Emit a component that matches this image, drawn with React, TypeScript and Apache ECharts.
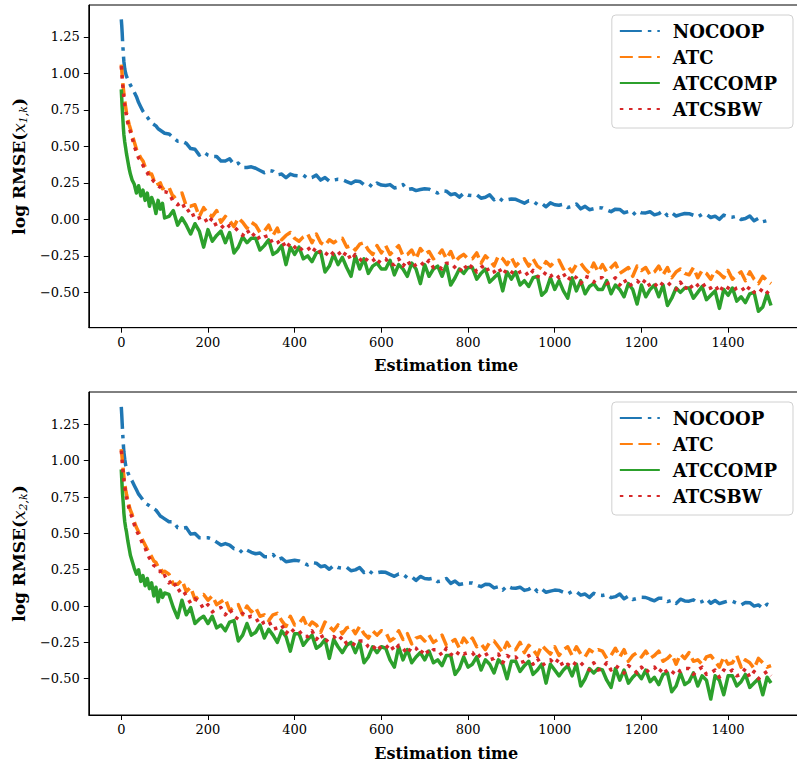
import React, { useEffect, useRef } from 'react';
import * as echarts from 'echarts';

// Sample positions (estimation time) at which values were read from the reference
const SAMPLE_X = [
  0, 1, 2, 3, 4, 5, 6, 8, 10, 12, 15, 18, 21, 25, 30, 35, 40, 45, 50, 55, 60, 65, 70, 75, 80, 85, 90, 95, 100,
  110, 120, 130, 140, 150, 160, 170, 180, 190, 200,
  210, 220, 230, 240, 250, 260, 270, 280, 290, 300,
  310, 320, 330, 340, 350, 360, 370, 380, 390, 400,
  410, 420, 430, 440, 450, 460, 470, 480, 490, 500,
  510, 520, 530, 540, 550, 560, 570, 580, 590, 600,
  610, 620, 630, 640, 650, 660, 670, 680, 690, 700,
  710, 720, 730, 740, 750, 760, 770, 780, 790, 800,
  810, 820, 830, 840, 850, 860, 870, 880, 890, 900,
  910, 920, 930, 940, 950, 960, 970, 980, 990, 1000,
  1010, 1020, 1030, 1040, 1050, 1060, 1070, 1080, 1090, 1100,
  1110, 1120, 1130, 1140, 1150, 1160, 1170, 1180, 1190, 1200,
  1210, 1220, 1230, 1240, 1250, 1260, 1270, 1280, 1290, 1300,
  1310, 1320, 1330, 1340, 1350, 1360, 1370, 1380, 1390, 1400,
  1410, 1420, 1430, 1440, 1450, 1460, 1470, 1480, 1490, 1499,
];

const SERIES_NAMES = ['NOCOOP', 'ATC', 'ATCCOMP', 'ATCSBW'];

// ---- top panel: log RMSE(x_{1,k}) ----
const TOP_NOCOOP = [
  1.37, 1.33, 1.28, 1.22, 1.17, 1.12, 1.08, 1.03, 1.0, 0.98, 0.96, 0.94, 0.92, 0.9, 0.87, 0.84, 0.8, 0.77, 0.74, 0.72, 0.7, 0.68, 0.66, 0.65, 0.64, 0.62, 0.61, 0.6, 0.59,
  0.585, 0.56, 0.535, 0.535, 0.52, 0.485, 0.48, 0.44, 0.46, 0.44,
  0.43, 0.43, 0.4, 0.4, 0.415, 0.375, 0.385, 0.355, 0.355, 0.36,
  0.35, 0.335, 0.32, 0.335, 0.33, 0.305, 0.31, 0.285, 0.31, 0.3,
  0.297, 0.303, 0.28, 0.286, 0.303, 0.269, 0.286, 0.262, 0.269, 0.275,
  0.272, 0.259, 0.246, 0.263, 0.26, 0.237, 0.244, 0.221, 0.248, 0.235,
  0.232, 0.238, 0.215, 0.221, 0.238, 0.204, 0.21, 0.197, 0.204, 0.21,
  0.207, 0.193, 0.18, 0.196, 0.193, 0.169, 0.176, 0.152, 0.179, 0.165,
  0.162, 0.168, 0.145, 0.151, 0.168, 0.134, 0.151, 0.127, 0.134, 0.14,
  0.137, 0.124, 0.111, 0.128, 0.125, 0.102, 0.109, 0.086, 0.113, 0.1,
  0.097, 0.104, 0.081, 0.088, 0.105, 0.072, 0.089, 0.066, 0.073, 0.08,
  0.078, 0.065, 0.053, 0.07, 0.068, 0.045, 0.053, 0.03, 0.058, 0.045,
  0.044, 0.052, 0.031, 0.039, 0.058, 0.026, 0.045, 0.023, 0.032, 0.04,
  0.039, 0.028, 0.016, 0.035, 0.034, 0.013, 0.022, 0.0, 0.029, 0.018,
  0.015, 0.022, -0.001, 0.006, 0.023, -0.01, 0.007, -0.016, -0.009, -0.02,
];
const TOP_ATC = [
  1.06, 1.03, 0.99, 0.95, 0.92, 0.89, 0.86, 0.81, 0.77, 0.73, 0.69, 0.65, 0.62, 0.58, 0.53, 0.48, 0.45, 0.42, 0.4, 0.36, 0.35, 0.31, 0.31, 0.27, 0.28, 0.24, 0.25, 0.21, 0.22,
  0.22, 0.15, 0.17, 0.18, 0.09, 0.09, 0.1, 0.02, 0.08, 0.04,
  0.02, 0.06, -0.02, 0.02, -0.01, -0.05, 0.01, -0.02, -0.06, -0.02,
  -0.04, -0.09, -0.08, -0.04, -0.11, -0.06, -0.14, -0.11, -0.09, -0.13,
  -0.15, -0.12, -0.1, -0.16, -0.1, -0.16, -0.18, -0.14, -0.16, -0.14,
  -0.13, -0.19, -0.18, -0.21, -0.17, -0.16, -0.21, -0.24, -0.18, -0.23,
  -0.18, -0.24, -0.21, -0.18, -0.25, -0.24, -0.21, -0.27, -0.2, -0.24,
  -0.22, -0.27, -0.25, -0.21, -0.27, -0.22, -0.29, -0.26, -0.24, -0.27,
  -0.27, -0.23, -0.3, -0.25, -0.28, -0.32, -0.25, -0.27, -0.31, -0.26,
  -0.32, -0.29, -0.27, -0.32, -0.27, -0.32, -0.34, -0.29, -0.32, -0.29,
  -0.28, -0.34, -0.32, -0.36, -0.31, -0.3, -0.34, -0.37, -0.3, -0.36,
  -0.31, -0.36, -0.33, -0.3, -0.37, -0.35, -0.33, -0.39, -0.32, -0.35,
  -0.33, -0.38, -0.36, -0.32, -0.38, -0.33, -0.4, -0.36, -0.34, -0.37,
  -0.38, -0.33, -0.4, -0.35, -0.37, -0.41, -0.35, -0.37, -0.4, -0.35,
  -0.41, -0.38, -0.36, -0.42, -0.36, -0.41, -0.44, -0.39, -0.42, -0.44,
];
const TOP_ATCCOMP = [
  0.89, 0.83, 0.77, 0.72, 0.67, 0.62, 0.58, 0.53, 0.49, 0.45, 0.4, 0.35, 0.31, 0.27, 0.24, 0.18, 0.23, 0.16, 0.2, 0.13, 0.18, 0.09, 0.15, 0.11, 0.04, 0.13, 0.07, 0.11, 0.01,
  0.02, 0.06, -0.04, 0.01, -0.04, -0.1, -0.03, -0.08, -0.19, -0.07,
  -0.15, -0.11, -0.08, -0.16, -0.09, -0.23, -0.19, -0.12, -0.16, -0.13,
  -0.13, -0.21, -0.18, -0.14, -0.24, -0.22, -0.18, -0.31, -0.19, -0.24,
  -0.19, -0.27, -0.25, -0.29, -0.23, -0.22, -0.36, -0.32, -0.24, -0.31,
  -0.26, -0.33, -0.39, -0.25, -0.34, -0.27, -0.37, -0.32, -0.3, -0.34,
  -0.34, -0.28, -0.38, -0.31, -0.34, -0.39, -0.3, -0.34, -0.44, -0.31,
  -0.39, -0.34, -0.32, -0.39, -0.31, -0.45, -0.4, -0.34, -0.37, -0.33,
  -0.33, -0.41, -0.37, -0.34, -0.43, -0.4, -0.37, -0.49, -0.36, -0.41,
  -0.36, -0.45, -0.42, -0.46, -0.4, -0.39, -0.52, -0.49, -0.4, -0.48,
  -0.42, -0.49, -0.54, -0.4, -0.49, -0.42, -0.51, -0.46, -0.44, -0.48,
  -0.48, -0.42, -0.51, -0.45, -0.48, -0.53, -0.44, -0.48, -0.58, -0.45,
  -0.53, -0.48, -0.45, -0.53, -0.45, -0.59, -0.54, -0.47, -0.5, -0.47,
  -0.47, -0.54, -0.5, -0.46, -0.55, -0.52, -0.49, -0.61, -0.48, -0.52,
  -0.47, -0.56, -0.53, -0.57, -0.51, -0.5, -0.63, -0.6, -0.51, -0.59,
];
const TOP_ATCSBW = [
  1.05, 1.01, 0.97, 0.93, 0.9, 0.86, 0.83, 0.78, 0.74, 0.71, 0.66, 0.63, 0.6, 0.56, 0.5, 0.46, 0.42, 0.4, 0.37, 0.34, 0.32, 0.29, 0.28, 0.26, 0.25, 0.23, 0.22, 0.19, 0.19,
  0.18, 0.12, 0.1, 0.12, 0.05, 0.07, 0.0, 0.01, 0.02, -0.03,
  0.01, -0.05, -0.04, -0.07, -0.04, -0.05, -0.08, -0.11, -0.07, -0.12,
  -0.09, -0.14, -0.12, -0.11, -0.17, -0.16, -0.14, -0.2, -0.16, -0.19,
  -0.22, -0.19, -0.19, -0.23, -0.19, -0.23, -0.25, -0.21, -0.24, -0.22,
  -0.26, -0.22, -0.28, -0.24, -0.27, -0.3, -0.26, -0.27, -0.31, -0.27,
  -0.27, -0.31, -0.31, -0.27, -0.32, -0.28, -0.33, -0.31, -0.29, -0.32,
  -0.28, -0.33, -0.32, -0.34, -0.3, -0.3, -0.33, -0.36, -0.31, -0.35,
  -0.31, -0.36, -0.33, -0.31, -0.37, -0.36, -0.33, -0.38, -0.34, -0.36,
  -0.38, -0.36, -0.35, -0.39, -0.35, -0.39, -0.4, -0.36, -0.39, -0.37,
  -0.4, -0.37, -0.42, -0.38, -0.4, -0.44, -0.39, -0.4, -0.43, -0.4,
  -0.4, -0.44, -0.43, -0.4, -0.45, -0.41, -0.46, -0.44, -0.42, -0.45,
  -0.41, -0.46, -0.44, -0.47, -0.43, -0.43, -0.46, -0.48, -0.43, -0.48,
  -0.44, -0.48, -0.45, -0.43, -0.48, -0.47, -0.45, -0.5, -0.45, -0.47,
  -0.49, -0.47, -0.46, -0.5, -0.46, -0.5, -0.51, -0.47, -0.5, -0.52,
];

// ---- bottom panel: log RMSE(x_{2,k}) ----
const BOT_NOCOOP = [
  1.37, 1.32, 1.26, 1.2, 1.15, 1.1, 1.06, 1.01, 0.97, 0.95, 0.92, 0.9, 0.88, 0.86, 0.83, 0.8, 0.77, 0.75, 0.73, 0.71, 0.7, 0.69, 0.68, 0.67, 0.66, 0.64, 0.62, 0.61, 0.6,
  0.58, 0.58, 0.54, 0.535, 0.54, 0.495, 0.5, 0.47, 0.47, 0.47,
  0.46, 0.44, 0.42, 0.43, 0.42, 0.395, 0.395, 0.365, 0.385, 0.37,
  0.36, 0.365, 0.34, 0.34, 0.355, 0.32, 0.33, 0.305, 0.31, 0.315,
  0.311, 0.297, 0.283, 0.299, 0.295, 0.271, 0.277, 0.253, 0.279, 0.265,
  0.261, 0.267, 0.243, 0.249, 0.265, 0.231, 0.247, 0.223, 0.229, 0.235,
  0.232, 0.218, 0.205, 0.221, 0.218, 0.194, 0.201, 0.177, 0.204, 0.19,
  0.186, 0.192, 0.168, 0.174, 0.19, 0.156, 0.172, 0.148, 0.154, 0.16,
  0.158, 0.145, 0.133, 0.15, 0.148, 0.125, 0.133, 0.11, 0.138, 0.125,
  0.123, 0.13, 0.108, 0.115, 0.133, 0.1, 0.118, 0.095, 0.103, 0.11,
  0.108, 0.095, 0.083, 0.1, 0.098, 0.075, 0.083, 0.06, 0.088, 0.075,
  0.073, 0.08, 0.058, 0.065, 0.083, 0.05, 0.068, 0.045, 0.053, 0.06,
  0.059, 0.047, 0.036, 0.054, 0.053, 0.031, 0.04, 0.018, 0.047, 0.035,
  0.034, 0.043, 0.022, 0.031, 0.05, 0.019, 0.038, 0.017, 0.026, 0.035,
  0.033, 0.02, 0.008, 0.025, 0.023, 0.0, 0.008, -0.015, 0.013, 0.0,
];
const BOT_ATC = [
  1.08, 1.05, 1.02, 0.98, 0.95, 0.92, 0.89, 0.84, 0.8, 0.77, 0.73, 0.69, 0.66, 0.63, 0.58, 0.54, 0.51, 0.48, 0.45, 0.42, 0.39, 0.36, 0.34, 0.31, 0.3, 0.27, 0.27, 0.23, 0.24,
  0.22, 0.15, 0.15, 0.18, 0.1, 0.13, 0.045, 0.07, 0.08, 0.04,
  0.07, 0.01, 0.03, 0.05, -0.03, -0.01, 0.01, -0.06, 0.0, -0.04,
  -0.01, -0.07, -0.06, -0.1, -0.06, -0.05, -0.1, -0.14, -0.07, -0.13,
  -0.12, -0.08, -0.15, -0.11, -0.13, -0.18, -0.11, -0.14, -0.17, -0.13,
  -0.19, -0.15, -0.14, -0.19, -0.14, -0.19, -0.22, -0.17, -0.2, -0.17,
  -0.18, -0.24, -0.22, -0.17, -0.23, -0.19, -0.26, -0.22, -0.21, -0.24,
  -0.2, -0.25, -0.23, -0.2, -0.27, -0.25, -0.23, -0.29, -0.22, -0.26,
  -0.22, -0.28, -0.26, -0.3, -0.25, -0.24, -0.28, -0.32, -0.25, -0.3,
  -0.3, -0.25, -0.32, -0.27, -0.3, -0.34, -0.27, -0.3, -0.33, -0.28,
  -0.34, -0.3, -0.28, -0.34, -0.28, -0.33, -0.35, -0.3, -0.32, -0.3,
  -0.31, -0.36, -0.34, -0.29, -0.35, -0.3, -0.38, -0.34, -0.32, -0.35,
  -0.31, -0.36, -0.34, -0.31, -0.38, -0.36, -0.33, -0.4, -0.33, -0.36,
  -0.32, -0.38, -0.37, -0.4, -0.35, -0.34, -0.38, -0.42, -0.35, -0.4,
  -0.39, -0.34, -0.42, -0.37, -0.39, -0.43, -0.36, -0.39, -0.42, -0.41,
];
const BOT_ATCCOMP = [
  0.94, 0.88, 0.82, 0.77, 0.73, 0.69, 0.64, 0.58, 0.54, 0.51, 0.45, 0.4, 0.35, 0.31, 0.26, 0.22, 0.25, 0.17, 0.21, 0.14, 0.19, 0.12, 0.16, 0.07, 0.13, 0.03, 0.11, 0.06, 0.09,
  0.08, -0.01, -0.08, 0.04, -0.06, -0.01, -0.12, -0.09, -0.07, -0.12,
  -0.07, -0.15, -0.13, -0.17, -0.11, -0.1, -0.24, -0.2, -0.12, -0.2,
  -0.18, -0.13, -0.22, -0.16, -0.2, -0.25, -0.17, -0.21, -0.31, -0.19,
  -0.19, -0.27, -0.23, -0.2, -0.29, -0.27, -0.23, -0.36, -0.23, -0.28,
  -0.32, -0.27, -0.25, -0.32, -0.25, -0.39, -0.35, -0.28, -0.32, -0.28,
  -0.29, -0.37, -0.42, -0.28, -0.37, -0.3, -0.39, -0.35, -0.32, -0.37,
  -0.31, -0.39, -0.37, -0.41, -0.34, -0.34, -0.47, -0.43, -0.35, -0.42,
  -0.4, -0.35, -0.44, -0.37, -0.4, -0.46, -0.37, -0.4, -0.5, -0.38,
  -0.38, -0.45, -0.41, -0.38, -0.47, -0.44, -0.4, -0.53, -0.4, -0.44,
  -0.48, -0.44, -0.41, -0.48, -0.4, -0.55, -0.5, -0.43, -0.46, -0.43,
  -0.44, -0.51, -0.56, -0.43, -0.51, -0.44, -0.53, -0.49, -0.46, -0.5,
  -0.44, -0.52, -0.49, -0.54, -0.47, -0.46, -0.59, -0.55, -0.46, -0.54,
  -0.52, -0.46, -0.55, -0.48, -0.51, -0.64, -0.48, -0.51, -0.61, -0.48,
  -0.48, -0.55, -0.52, -0.47, -0.56, -0.53, -0.5, -0.61, -0.49, -0.53,
];
const BOT_ATCSBW = [
  1.07, 1.04, 1.0, 0.96, 0.93, 0.9, 0.87, 0.82, 0.78, 0.75, 0.71, 0.67, 0.64, 0.61, 0.56, 0.52, 0.49, 0.46, 0.42, 0.4, 0.36, 0.33, 0.31, 0.28, 0.27, 0.24, 0.24, 0.2, 0.21,
  0.16, 0.18, 0.1, 0.12, 0.07, 0.02, 0.05, 0.03, -0.02, 0.01,
  -0.04, -0.02, -0.01, -0.06, -0.02, -0.07, -0.09, -0.05, -0.08, -0.07,
  -0.08, -0.13, -0.11, -0.1, -0.16, -0.15, -0.13, -0.19, -0.15, -0.18,
  -0.17, -0.21, -0.21, -0.17, -0.23, -0.19, -0.25, -0.22, -0.21, -0.24,
  -0.21, -0.26, -0.25, -0.27, -0.24, -0.24, -0.28, -0.3, -0.26, -0.3,
  -0.29, -0.26, -0.31, -0.27, -0.29, -0.33, -0.28, -0.29, -0.33, -0.29,
  -0.33, -0.3, -0.3, -0.34, -0.29, -0.33, -0.35, -0.31, -0.33, -0.32,
  -0.32, -0.36, -0.33, -0.32, -0.37, -0.36, -0.33, -0.39, -0.34, -0.36,
  -0.35, -0.39, -0.38, -0.34, -0.4, -0.36, -0.41, -0.39, -0.37, -0.4,
  -0.36, -0.42, -0.4, -0.42, -0.38, -0.39, -0.42, -0.44, -0.39, -0.44,
  -0.43, -0.39, -0.44, -0.41, -0.43, -0.46, -0.41, -0.43, -0.46, -0.42,
  -0.46, -0.43, -0.42, -0.46, -0.42, -0.46, -0.47, -0.43, -0.45, -0.43,
  -0.43, -0.47, -0.44, -0.42, -0.47, -0.46, -0.44, -0.49, -0.44, -0.46,
  -0.44, -0.48, -0.47, -0.43, -0.49, -0.45, -0.5, -0.47, -0.45, -0.48,
];

const X_TICKS = [0, 200, 400, 600, 800, 1000, 1200, 1400];
const Y_TICKS = [-0.5, -0.25, 0, 0.25, 0.5, 0.75, 1, 1.25];
const Y_LABEL_SUB = ['1,k', '2,k'];

const COLORS = ['#1f77b4', '#ff7f0e', '#2ca02c', '#d62728'];
const DASHES: any[] = [[22, 6, 3.5, 6], [13, 5.6], 'solid', [3.5, 5.7]];

const SERIF = "'DejaVu Serif', 'Liberation Serif', serif";

export default function App() {
  const ref = useRef<HTMLDivElement>(null);

  useEffect(() => {
    if (!ref.current) return;
    const chart = echarts.init(ref.current, null, { renderer: 'svg' });

    const panels = [
      [TOP_NOCOOP, TOP_ATC, TOP_ATCCOMP, TOP_ATCSBW],
      [BOT_NOCOOP, BOT_ATC, BOT_ATCCOMP, BOT_ATCSBW],
    ];
    const yRanges = [
      [-0.742, 1.468],
      [-0.7495, 1.473],
    ];
    const grids = [
      { top: 5, height: 322.7 },
      { top: 392, height: 323 },
    ];
    const fmtY = (v: number) => v.toFixed(2).replace('-', '\u2212');

    const series: any[] = [];
    panels.forEach((panel, g) => {
      panel.forEach((ys, k) => {
        series.push({
          name: SERIES_NAMES[k],
          type: 'line',
          xAxisIndex: g,
          yAxisIndex: g,
          data: SAMPLE_X.map((x, i) => [x, ys[i]]),
          showSymbol: false,
          symbol: 'none',
          silent: true,
          clip: true,
          z: 2 + k,
          itemStyle: { color: COLORS[k] },
          lineStyle: { color: COLORS[k], width: 3.5, type: DASHES[k], cap: 'butt', join: 'round' },
        });
      });
    });

    const option: any = {
      animation: false,
      backgroundColor: '#ffffff',
      grid: grids.map((g) => ({
        left: 88.8,
        width: 714.7,
        top: g.top,
        height: g.height,
        show: true,
        borderColor: '#000',
        borderWidth: 1,
        backgroundColor: 'transparent',
      })),
      xAxis: [0, 1].map((g) => ({
        type: 'value',
        gridIndex: g,
        min: -74.95,
        max: 1573.95,
        axisLine: { show: true, onZero: false, lineStyle: { color: '#000', width: 1 } },
        splitLine: { show: false },
        axisTick: { show: true, length: 5, inside: false, customValues: X_TICKS, lineStyle: { color: '#000', width: 1 } },
        axisLabel: {
          customValues: X_TICKS,
          margin: 8,
          fontFamily: SERIF,
          fontSize: 13,
          color: '#000',
          formatter: (v: number) => String(v),
        },
        name: 'Estimation time',
        nameLocation: 'middle',
        nameGap: 30,
        nameTextStyle: { fontFamily: SERIF, fontWeight: 'bold', fontSize: 16, color: '#000' },
      })),
      yAxis: [0, 1].map((g) => ({
        type: 'value',
        gridIndex: g,
        min: yRanges[g][0],
        max: yRanges[g][1],
        axisLine: { show: true, onZero: false, lineStyle: { color: '#000', width: 1 } },
        splitLine: { show: false },
        axisTick: { show: true, length: 5, inside: false, customValues: Y_TICKS, lineStyle: { color: '#000', width: 1 } },
        axisLabel: {
          customValues: Y_TICKS,
          margin: 9,
          fontFamily: SERIF,
          fontSize: 13,
          color: '#000',
          formatter: fmtY,
        },
        name: '{b|log RMSE(}{i|x}{s|' + Y_LABEL_SUB[g] + '}{b|)}',
        nameLocation: 'middle',
        nameRotate: 90,
        nameGap: 58,
        nameTextStyle: {
          color: '#000',
          rich: {
            b: { fontFamily: SERIF, fontWeight: 'bold', fontSize: 17, color: '#000' },
            i: { fontFamily: SERIF, fontStyle: 'italic', fontSize: 17, color: '#000' },
            s: { fontFamily: SERIF, fontStyle: 'italic', fontSize: 11, color: '#000', padding: [9, 0, 0, 0] },
          },
        },
      })),
      legend: [0, 1].map((g) => ({
        data: SERIES_NAMES,
        orient: 'vertical',
        right: 12,
        top: g === 0 ? 15 : 402,
        itemWidth: 40,
        itemHeight: 14,
        itemGap: 8,
        selectedMode: false,
        backgroundColor: '#fff',
        borderColor: '#d0d0d0',
        borderWidth: 1,
        borderRadius: 4,
        padding: [7, 16, 10, 7],
        itemStyle: { opacity: 0 },
        textStyle: { fontFamily: SERIF, fontWeight: 'bold', fontSize: 18, color: '#000', padding: [0, 0, 0, 8] },
      })),
      series,
    };

    chart.setOption(option);
    return () => chart.dispose();
  }, []);

  return (
    <div
      ref={ref}
      style={{ position: 'fixed', left: 0, top: 0, width: 805, height: 770, background: '#fff' }}
    />
  );
}
